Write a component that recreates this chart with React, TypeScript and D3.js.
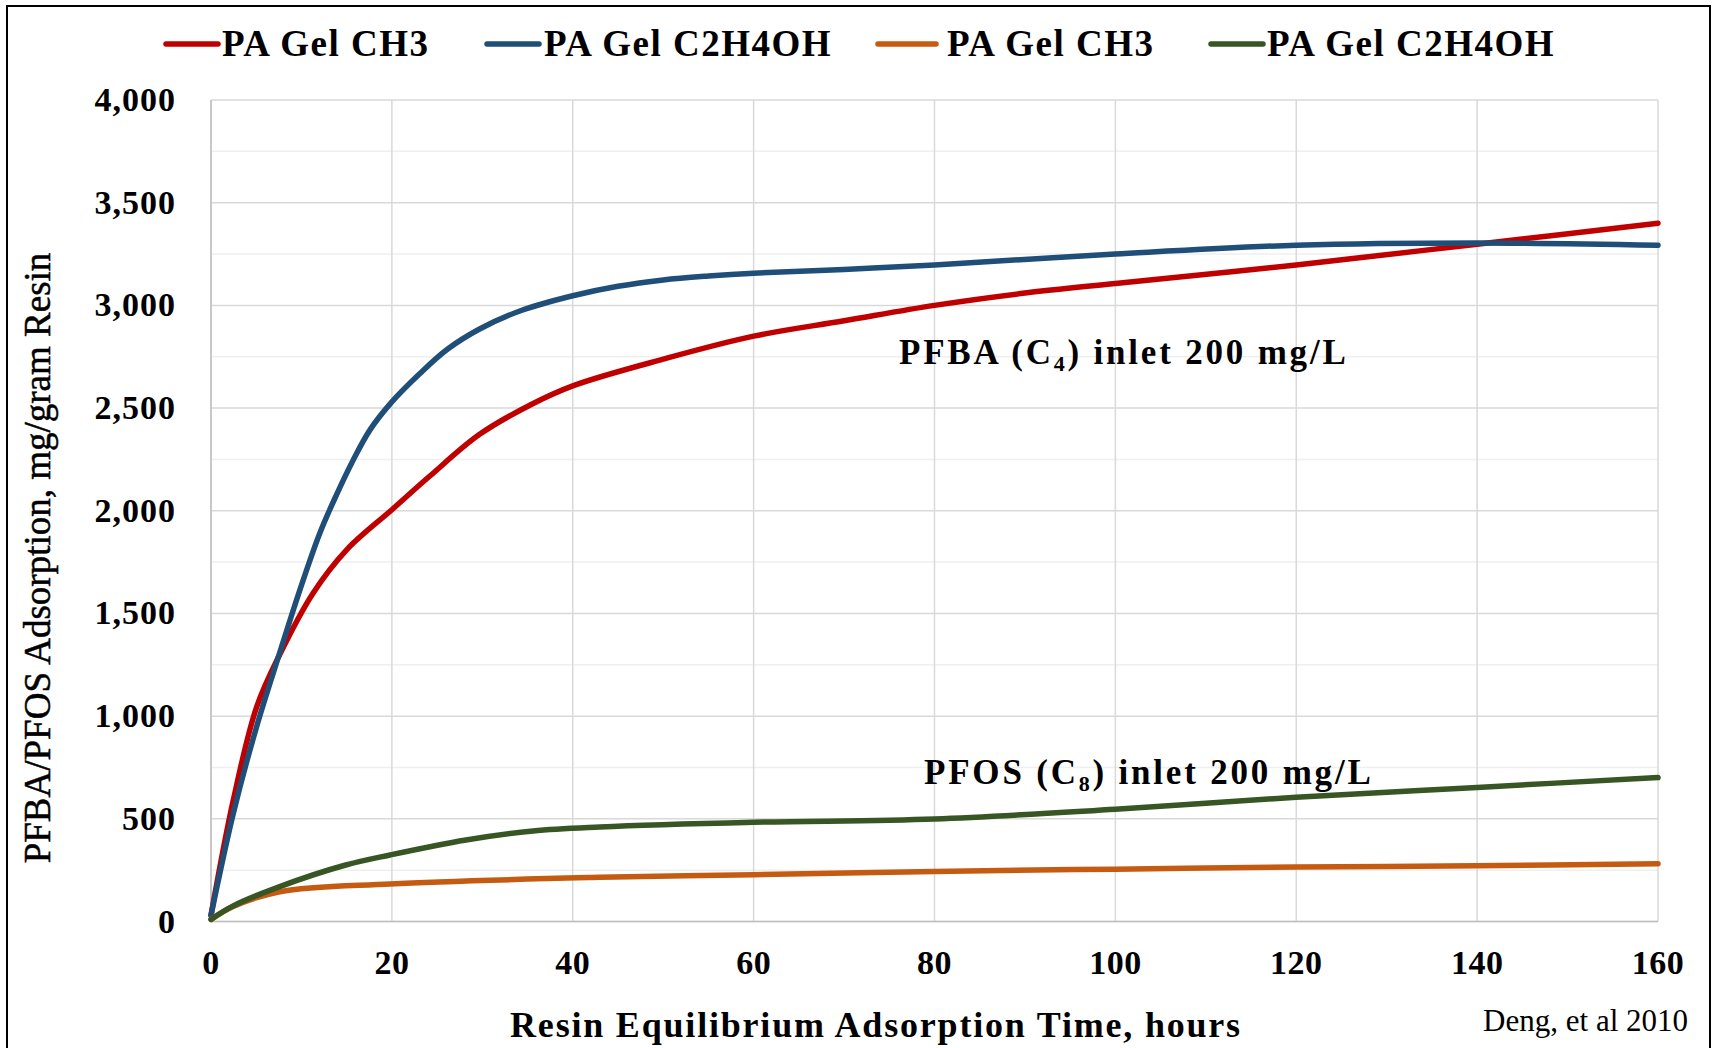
import React from "react";
import * as d3 from "d3";

const hours = [0, 20, 40, 60, 80, 100, 120, 140, 160];
const yTicks = [0, 500, 1000, 1500, 2000, 2500, 3000, 3500, 4000];

const pfbaCh3T = [0, 2.47, 5.05, 7.6, 11.3, 15, 20, 24.2, 29.7, 35.3, 40, 50, 60, 70, 80, 90, 100, 120, 140, 160];
const pfbaCh3V = [30, 592, 1045, 1300, 1600, 1810, 2005, 2169, 2372, 2515, 2608, 2738, 2850, 2925, 3000, 3060, 3107, 3197, 3298, 3400];

const pfbaC2T = [0, 2.47, 5.05, 7.6, 9.84, 12.05, 13.9, 15.7, 17.6, 20, 23.1, 26.1, 29.7, 34.3, 40, 45, 50, 55, 60, 70, 80, 100, 120, 140, 160];
const pfbaC2V = [30, 527, 950, 1309, 1616, 1893, 2080, 2245, 2395, 2530, 2668, 2785, 2885, 2975, 3047, 3093, 3124, 3143, 3157, 3175, 3197, 3250, 3293, 3304, 3293];

const pfosCh3T = [0, 2.4, 7.6, 19.8, 43, 60, 80, 100, 120, 140, 160];
const pfosCh3V = [10, 72, 145, 183, 215, 228, 244, 255, 265, 271, 281];

const pfosC2T = [0, 2.4, 7.6, 14.9, 19.8, 28.2, 35.6, 43, 60, 80, 100, 120, 140, 160];
const pfosC2V = [10, 75, 170, 275, 324, 397, 441, 460, 483, 499, 547, 605, 653, 701];

const seriesNames = ["PA Gel CH3", "PA Gel C2H4OH", "PA Gel CH3", "PA Gel C2H4OH"];
const seriesColors = ["#C00000", "#1F4E79", "#C55A11", "#375623"];
const seriesT = [pfbaCh3T, pfbaC2T, pfosCh3T, pfosC2T];
const seriesV = [pfbaCh3V, pfbaC2V, pfosCh3V, pfosC2V];

const W = 1715;
const H = 1048;
const L = 211, R = 1658, T = 100, B = 921.5;
const FONT = "'Liberation Serif', 'DejaVu Serif', serif";

export default function App() {
  const x = d3.scaleLinear().domain([0, 160]).range([L, R]);
  const y = d3.scaleLinear().domain([0, 4000]).range([B, T]);
  const line = d3
    .line<[number, number]>()
    .x((d) => x(d[0]))
    .y((d) => y(d[1]))
    .curve(d3.curveCatmullRom.alpha(0.5));
  const minor = d3.range(250, 4000, 500);
  const legendLineX = [166, 487, 878, 1211];
  const legendLineLen = [52, 52, 58, 52];
  const legendTextX = [222, 544, 947, 1267];

  return (
    <svg
      width={W}
      height={H}
      style={{ position: "absolute", left: 0, top: 0, background: "#fff" }}
      fontFamily={FONT}
    >
      <rect x={0} y={0} width={W} height={H} fill="#fff" />
      <rect x={7} y={6} width={1703} height={1060} fill="none" stroke="#000" strokeWidth={2} />
      {minor.map((v) => (
        <line key={"m" + v} x1={L} x2={R} y1={y(v)} y2={y(v)} stroke="#efefef" strokeWidth={1.5} />
      ))}
      {yTicks.map((v) => (
        <line key={"g" + v} x1={L} x2={R} y1={y(v)} y2={y(v)} stroke="#d9d9d9" strokeWidth={1.5} />
      ))}
      {hours.map((v) => (
        <line key={"v" + v} x1={x(v)} x2={x(v)} y1={T} y2={B} stroke="#d9d9d9" strokeWidth={1.5} />
      ))}
      <line x1={L} x2={L} y1={T} y2={B} stroke="#bfbfbf" strokeWidth={1.5} />
      <line x1={L} x2={R} y1={B} y2={B} stroke="#bfbfbf" strokeWidth={1.5} />
      {yTicks.map((v) => (
        <text key={"yt" + v} x={176} y={y(v) + 11} textAnchor="end" fontSize={34} letterSpacing={1} fontWeight="bold" fill="#000">
          {d3.format(",")(v)}
        </text>
      ))}
      {hours.map((v) => (
        <text key={"xt" + v} x={x(v)} y={974} textAnchor="middle" fontSize={34} letterSpacing={0.5} fontWeight="bold" fill="#000">
          {v}
        </text>
      ))}
      {seriesT.map((ts, i) => (
        <path
          key={"s" + i}
          d={line(ts.map((t, j) => [t, seriesV[i][j]]) as [number, number][]) || ""}
          fill="none"
          stroke={seriesColors[i]}
          strokeWidth={5.5}
          strokeLinejoin="round"
          strokeLinecap="round"
        />
      ))}
      {seriesNames.map((n, i) => (
        <g key={"l" + i}>
          <line x1={legendLineX[i]} x2={legendLineX[i] + legendLineLen[i]} y1={44} y2={44} stroke={seriesColors[i]} strokeWidth={5.5} strokeLinecap="round" />
          <text x={legendTextX[i]} y={56} fontSize={37} letterSpacing={1.5} fontWeight="bold" fill="#000">
            {n}
          </text>
        </g>
      ))}
      <text x={899} y={364} fontSize={35} letterSpacing={2.8} fontWeight="bold" fill="#000">
        PFBA (C<tspan fontSize={22} dy={7}>4</tspan>
        <tspan dy={-7}>) inlet 200 mg/L</tspan>
      </text>
      <text x={924} y={784} fontSize={35} letterSpacing={2.8} fontWeight="bold" fill="#000">
        PFOS (C<tspan fontSize={22} dy={7}>8</tspan>
        <tspan dy={-7}>) inlet 200 mg/L</tspan>
      </text>
      <text x={876} y={1037} textAnchor="middle" fontSize={36} letterSpacing={1.8} fontWeight="bold" fill="#000">
        Resin Equilibrium Adsorption Time, hours
      </text>
      <text x={1688} y={1031} textAnchor="end" fontSize={31} fill="#000">
        Deng, et al 2010
      </text>
      <text
        transform={`translate(50, 558) rotate(-90)`}
        textAnchor="middle"
        fontSize={37}
        fill="#000"
        stroke="#000"
        strokeWidth={0.5}
      >
        PFBA/PFOS Adsorption, mg/gram Resin
      </text>
    </svg>
  );
}
